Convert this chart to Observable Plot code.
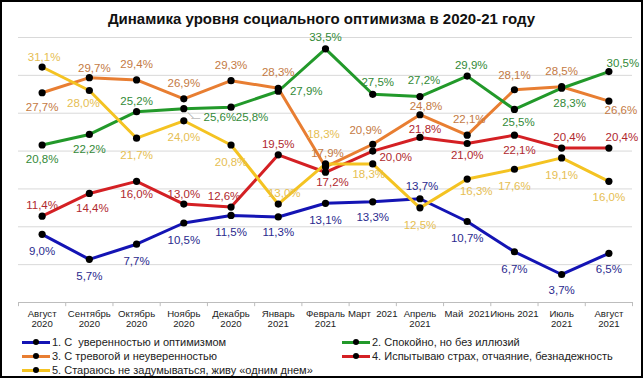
<!DOCTYPE html>
<html><head><meta charset="utf-8">
<script src="https://cdn.jsdelivr.net/npm/d3@7"></script>
<script src="https://cdn.jsdelivr.net/npm/@observablehq/plot@0.6"></script>
<style>
body{margin:0;background:#fff;}
#wrap{position:relative;width:643px;height:378px;overflow:hidden;background:#fff;font-family:"Liberation Sans",Arial,sans-serif;}
#wrap svg{position:absolute;left:0;top:0;}
#frame{position:absolute;left:0;top:0;width:643px;height:378px;box-sizing:border-box;border:2px solid #000;pointer-events:none;}
#title{position:absolute;left:0;width:643px;top:10px;text-align:center;font-weight:bold;font-size:15px;line-height:18px;color:#111;}
.leg{position:absolute;height:14px;line-height:14px;font-size:11px;color:#222;white-space:pre;}
.sw{display:inline-block;position:relative;width:28px;height:3px;margin-right:2px;vertical-align:middle;top:-1px;}
.sw i{position:absolute;left:11px;top:-1.5px;width:6px;height:6px;border-radius:50%;background:#000;}
</style></head>
<body>
<div id="wrap"><div id="title">Динамика уровня социального оптимизма в 2020-21 году</div></div>
<script>
const months = ["Август\n2020","Сентябрь\n2020","Октябрь\n2020","Ноябрь\n2020","Декабрь\n2020","Январь\n2021","Февраль\n2021","Март  2021","Апрель\n2021","Май  2021","Июнь 2021","Июль\n2021","Август\n2021"];
const seriesNames = ["1. С  уверенностью и оптимизмом","2. Спокойно, но без иллюзий","3. С тревогой и неуверенностью","4. Испытываю страх, отчаяние, безнадежность","5. Стараюсь не задумываться, живу «одним днем»"];
const confident = [9.0,5.7,7.7,10.5,11.5,11.3,13.1,13.3,13.7,10.7,6.7,3.7,6.5];
const calm      = [20.8,22.2,25.2,25.6,25.8,27.9,33.5,27.5,27.2,29.9,25.5,28.3,30.5];
const anxious   = [27.7,29.7,29.4,26.9,29.3,28.3,17.9,20.9,24.8,22.1,28.1,28.5,26.6];
const fear      = [11.4,14.4,16.0,13.0,12.6,19.5,17.2,20.0,21.8,21.0,22.1,20.4,20.4];
const dayByDay  = [31.1,28.0,21.7,24.0,20.8,13.0,18.3,18.3,12.5,16.3,17.6,19.1,16.0];
const gridValues = [5,10,15,20,25,30,35];

// styling (kept apart from the data)
const lineColors  = ["#1414b4","#22992a","#e87e32","#d42024","#f4c322"];
const labelColors = ["#2a2a8e","#338a38","#c47a44","#b0282e","#e6be52"];
// label offsets in px [dx, dy] per point
const labelOffsets = [
  [[0,17],[0,17],[0,17],[0,17],[0,17],[0,15],[0,17],[0,16],[2,-12],[0,17],[0,18],[0,16],[0,16]],
  [[0,14],[0,15],[0,-10],[36,9],[21,10],[28,0],[0,-12],[5,-12],[4,-16],[4,-11],[4,13],[8,15],[14,-8]],
  [[0,15],[5,-9],[0,-16],[0,-16],[0,-15],[0,-16],[2,-14],[-7,-14],[6,-8],[2,-16],[0,-14],[0,-15],[12,9]],
  [[0,-11],[3,15],[0,13],[0,-10],[-7,-11],[0,-11],[7,10],[23,6],[5,-8],[0,12],[5,15],[8,-11],[13,-11]],
  [[2,-10],[-6,13],[0,17],[0,17],[0,17],[6,-11],[-2,-30],[-4,10],[0,17],[9,12],[0,17],[0,17],[0,16]]
];

const seriesValues = [confident, calm, anxious, fear, dayByDay];
const rows = [];
seriesValues.forEach((vals, s) => vals.forEach((v, i) => rows.push({s, i, v, off: labelOffsets[s][i]})));
const fmt = v => v.toFixed(1).replace(".", ",") + "%";

const groups = d3.groups(rows, d => d.off.join(","));
const labelMarks = groups.map(([k, g]) => Plot.text(g, {
  x: "i", y: "v", text: d => fmt(d.v), fill: d => labelColors[d.s],
  dx: g[0].off[0], dy: g[0].off[1], fontSize: 11.5, lineAnchor: "middle"
}));

const drawOrder = [2, 0, 1, 3, 4];
const lineMarks = drawOrder.map(s => Plot.line(rows.filter(d => d.s === s), {
  x: "i", y: "v", stroke: lineColors[s], strokeWidth: 3, strokeLinejoin: "round"
}));

// leader line for the displaced label (Nov, series 2)
const leader = rows.filter(d => d.s === 1 && d.i === 3);

const marks = [
  Plot.ruleY(gridValues, {stroke: "#d9d9d9"}),
  Plot.ruleY([0], {stroke: "#bdbdbd"}),
  Plot.ruleX(d3.range(-0.5, 13, 1), {y1: 0, y2: -0.55, stroke: "#bdbdbd"}),
  Plot.axisX({ticks: d3.range(13), tickFormat: i => months[i], tickSize: 0, tickPadding: 8, fontSize: 9.6, fill: "#222", label: null}),
  ...lineMarks,
  Plot.text(leader, {x: "i", y: "v", text: () => "—", dx: 12, dy: 9, fill: "#999", fontSize: 9}),
  Plot.text(leader, {x: "i", y: "v", text: () => "—", dx: 7, dy: 6, rotate: 45, fill: "#999", fontSize: 8}),
  Plot.dot(rows, {x: "i", y: "v", r: 3.6, fill: "#000"}),
  ...labelMarks
];

const chart = Plot.plot({
  width: 643, height: 378,
  marginLeft: 18, marginRight: 11, marginTop: 37, marginBottom: 76,
  x: {type: "linear", domain: [-0.5, 12.5], axis: null},
  y: {domain: [0, 35], axis: null},
  color: {type: "identity"},
  style: {fontFamily: "'Liberation Sans', Arial, sans-serif", background: "transparent", overflow: "visible"},
  marks
});
const wrap = document.getElementById("wrap");
wrap.insertBefore(chart, wrap.firstChild);

const legendPos = [[22,335],[342,335],[22,349],[342,349],[22,363]];
seriesNames.forEach((name, s) => {
  const el = document.createElement("div");
  el.className = "leg";
  el.style.left = legendPos[s][0] + "px";
  el.style.top = legendPos[s][1] + "px";
  el.innerHTML = `<span class="sw" style="background:${lineColors[s]}"><i></i></span>`;
  el.appendChild(document.createTextNode(name));
  wrap.appendChild(el);
});
const fr = document.createElement("div"); fr.id = "frame"; wrap.appendChild(fr);
</script>
</body></html>
